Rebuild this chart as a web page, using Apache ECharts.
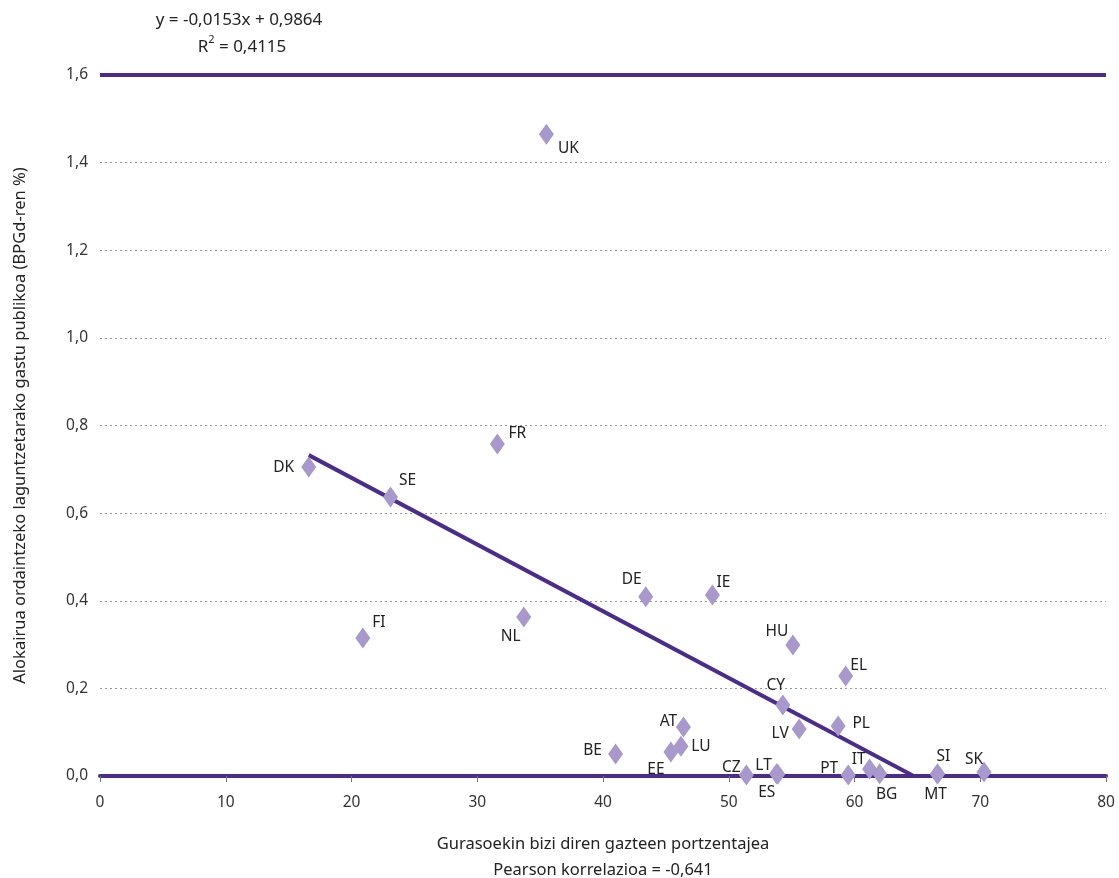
<!DOCTYPE html>
<html><head><meta charset="utf-8">
<script src="https://cdn.jsdelivr.net/npm/echarts@6/dist/echarts.min.js"></script>
<style>html,body{margin:0;padding:0;background:#fff}#c{width:1119px;height:878px}</style>
</head><body><div id="c"></div>
<script>
const countries = ['DK','SE','FI','FR','NL','UK','DE','IE','HU','EL','CY','LV','PL','AT','LU','EE','BE','CZ','LT','ES','SI','PT','IT','BG','SI','MT','SK'];
const youthWithParents = [16.6,23.1,20.9,31.6,33.7,35.5,43.4,48.7,55.1,59.3,54.3,55.6,58.7,46.4,46.2,45.4,41.0,51.4,53.8,53.9,54.8,59.5,61.2,62.0,66.6,66.6,70.3];
const housingSpending = [0.705,0.637,0.315,0.758,0.363,1.465,0.409,0.413,0.299,0.228,0.162,0.107,0.114,0.112,0.068,0.055,0.050,0.002,0.005,0.004,-0.002,0.002,0.016,0.005,0.005,0.004,0.009];
const trendX = [16.6, 64.7];
const trendY = [0.7324, 0.0];
const topLineX = [0, 80];
const topLineY = [1.6, 1.6];

// label placement (style only)
const labelOffsets = [[-25,0],[17,-16],[16,-15],[20,-10],[-13,20],[22,14],[-14,-17],[11,-12],[-16,-13],[13,-11],[-7,-19],[-19,4],[23,-2],[-15,-5],[20,0],[-15,18],[-23,-4],[-15,-8],[-13,-8],[-11,18],[13,10],[-19,-7],[-11,-9],[7,21],[6,-17],[-2,20],[-10,-12]];

const FONT = '"Noto Sans", "Open Sans", sans-serif';
const pts = countries.map((c,i)=>({
  value:[youthWithParents[i], housingSpending[i]],
  name:c,
  label:{show:true, formatter:c, position:'inside', offset:labelOffsets[i], color:'#222', fontSize:15.5, fontFamily:FONT, align:'center', verticalAlign:'middle'}
}));

const chart = echarts.init(document.getElementById('c'));
chart.setOption({
  animation:false,
  grid:{left:100, right:13, top:75, bottom:102, containLabel:false, outerBoundsMode:'none'},
  xAxis:{type:'value', min:0, max:80, interval:10,
    axisLine:{show:true, onZero:false, lineStyle:{color:'#4b2c8c', width:4}},
    axisTick:{show:true, length:6, lineStyle:{color:'#777', width:1}},
    axisLabel:{color:'#333', fontSize:15.5, fontFamily:FONT, margin:19},
    splitLine:{show:false},
    name:'Gurasoekin bizi diren gazteen portzentajea', nameLocation:'middle', nameGap:60,
    nameTextStyle:{color:'#222', fontSize:16.5, fontFamily:FONT}
  },
  yAxis:{type:'value', min:0, max:1.6, interval:0.2,
    axisLine:{show:false}, axisTick:{show:false},
    axisLabel:{color:'#333', fontSize:15.5, fontFamily:FONT, margin:12, formatter:v=>v.toFixed(1).replace('.',',')},
    splitLine:{show:true, lineStyle:{color:'#999', type:[2,3], width:1}},
    name:'Alokairua ordaintzeko laguntzetarako gastu publikoa (BPGd-ren %)', nameLocation:'middle', nameGap:71, nameRotate:90,
    nameTextStyle:{color:'#222', fontSize:16.5, fontFamily:FONT}
  },
  graphic:[
    {type:'text', style:{text:'y = -0,0153x + 0,9864', x:239, y:20, align:'center', verticalAlign:'middle', fill:'#222', font:'17px '+FONT}},
    {type:'text', style:{text:'{a|R}{b|2}{a| = 0,4115}', x:242, y:45, align:'center', verticalAlign:'middle', fill:'#222',
      rich:{a:{fontSize:17, fontFamily:FONT, fill:'#222', verticalAlign:'bottom'}, b:{fontSize:11, fontFamily:FONT, fill:'#222', verticalAlign:'top', padding:[0,0,10,0]}}}},
    {type:'text', style:{text:'Pearson korrelazioa = -0,641', x:603, y:870, align:'center', verticalAlign:'middle', fill:'#222', font:'16.5px '+FONT}}
  ],
  series:[
    {type:'line', data:topLineX.map((x,i)=>[x,topLineY[i]]), symbol:'none', lineStyle:{color:'#4b2c8c', width:4}, z:3, silent:true},
    {type:'line', data:trendX.map((x,i)=>[x,trendY[i]]), symbol:'none', lineStyle:{color:'#4b2c8c', width:4}, z:3, silent:true},
    {type:'scatter', data:pts, symbol:'diamond', symbolSize:[15,21], itemStyle:{color:'#a898cb', opacity:1}, z:4}
  ]
});
</script></body></html>
